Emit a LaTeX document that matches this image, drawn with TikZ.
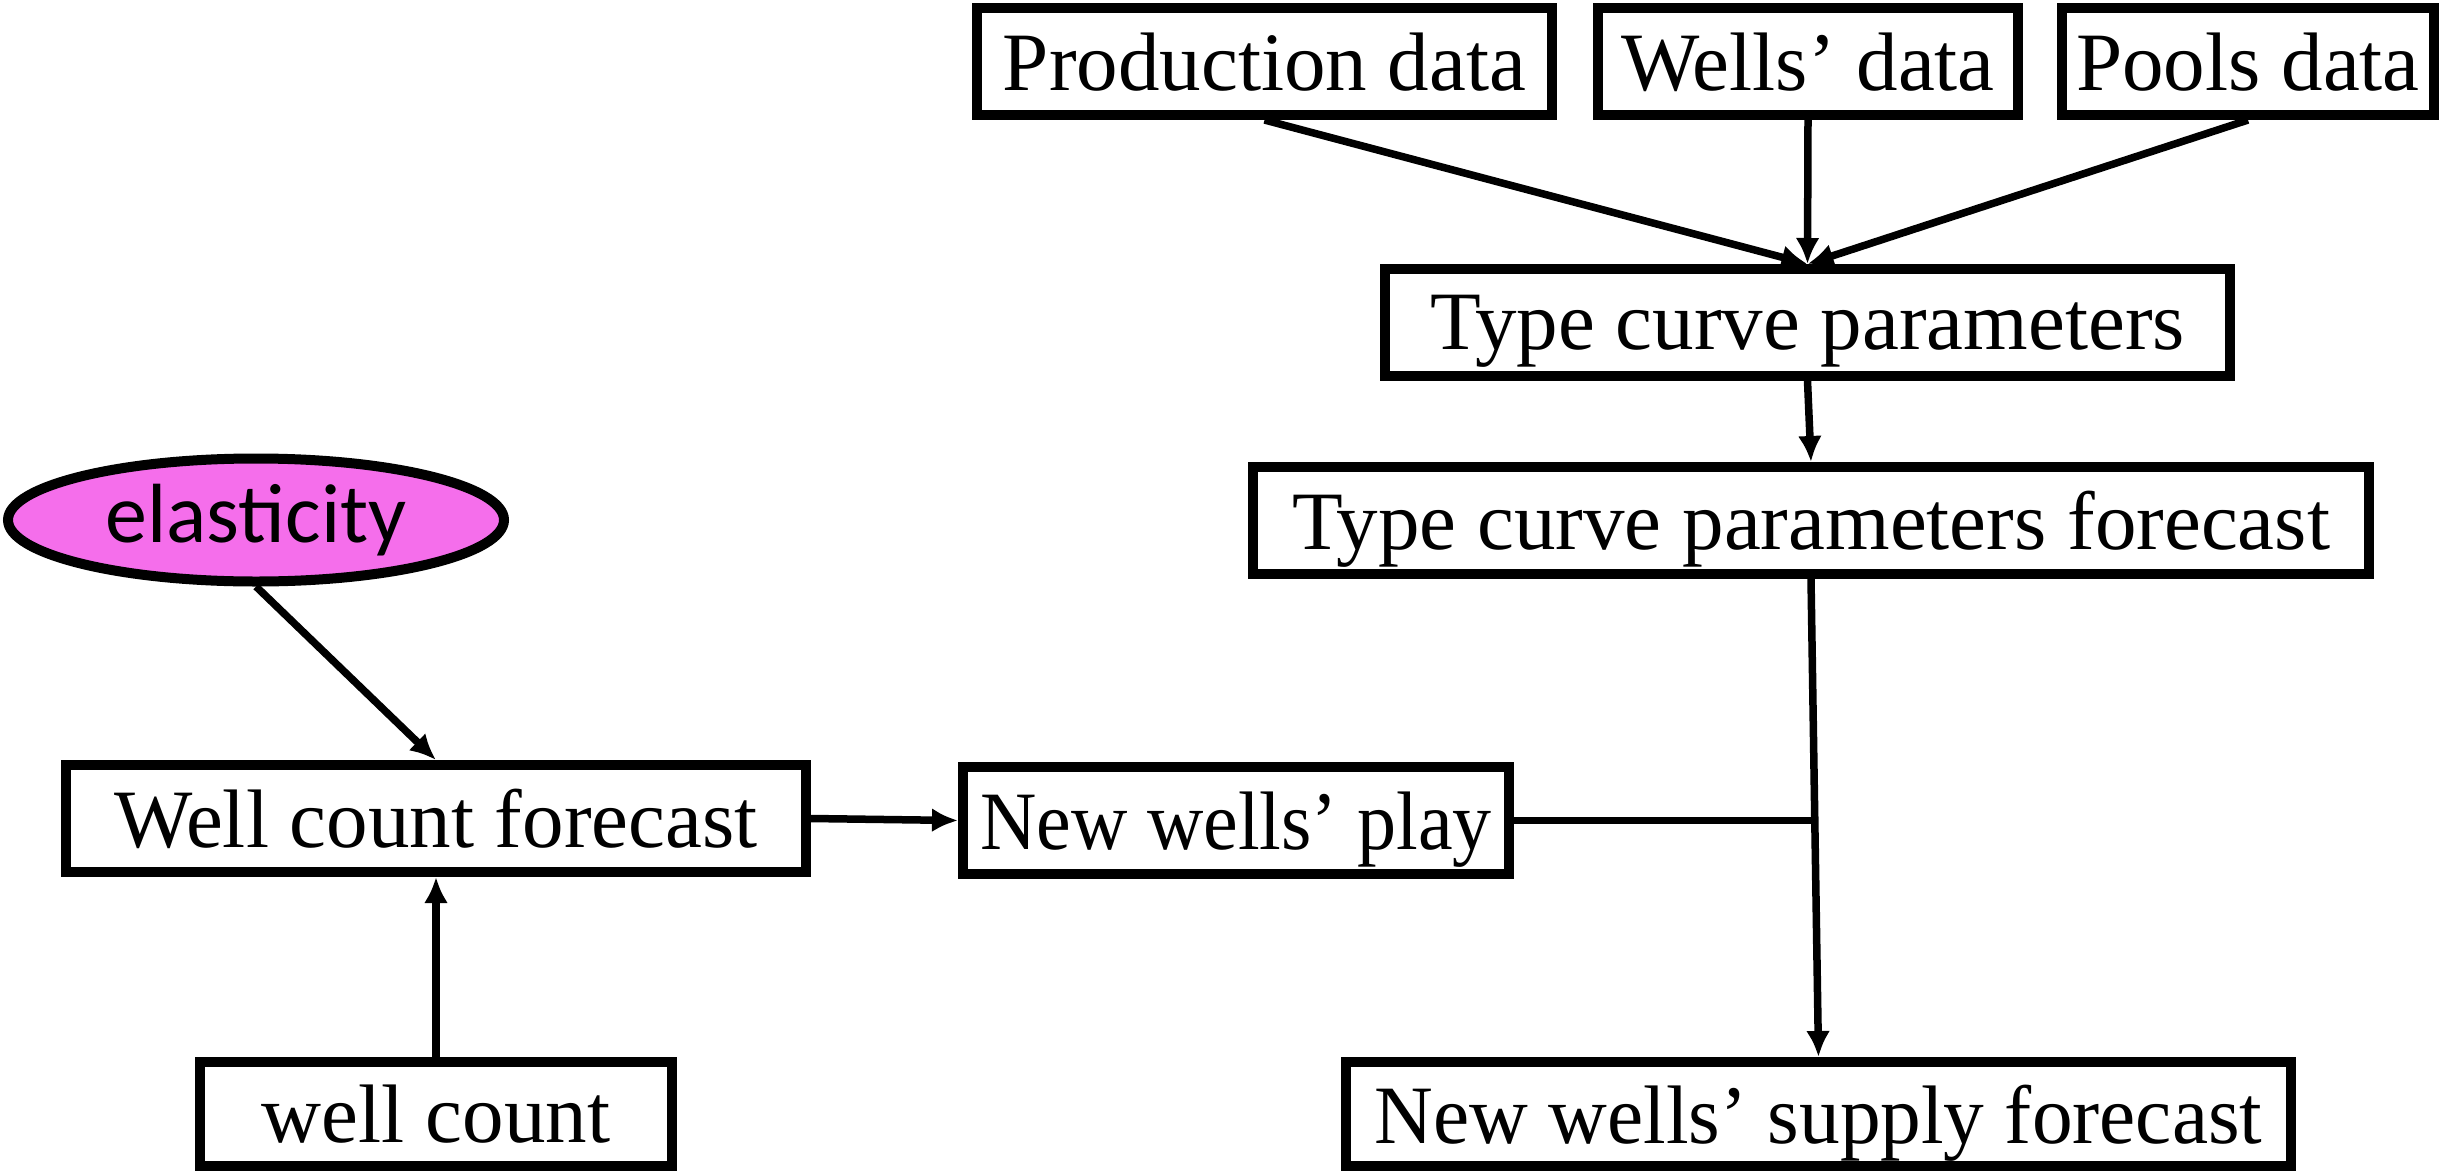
\documentclass[tikz,border=0pt]{standalone}
\usepackage{fontspec}
\setmainfont{Liberation Serif}
\newfontfamily\calib{Carlito}
\usetikzlibrary{shapes.geometric,arrows.meta}
\definecolor{elpink}{RGB}{245,110,235}
\begin{document}
\begin{tikzpicture}[x=1pt,y=-1pt,
  box/.style={draw=black,line width=10pt,rectangle,inner sep=0pt,minimum height=107pt,
    font=\fontsize{83}{100}\selectfont,text depth=0pt,align=center},
  conn/.style={line width=7.5pt,draw=black},
  arr/.style={conn,-{Latex[length=26pt,width=24pt]}}]
\useasboundingbox (0,0) rectangle (2447,1175);
\node[box,minimum width=575pt] (prod) at (1264.5,61.5) {Production data};
\node[box,minimum width=420pt] (wells) at (1808,61.5) {Wells’ data};
\node[box,minimum width=372pt] (pools) at (2248,61.5) {Pools data};
\node[box,minimum width=845pt] (tcp) at (1807.5,322.5) {Type curve parameters};
\node[box,minimum width=1116pt] (tcpf) at (1811,520.5) {Type curve parameters forecast};
\node[draw=black,line width=10pt,ellipse,fill=elpink,inner sep=0pt,minimum width=496pt,minimum height=123pt,
  font=\calib\fontsize{84}{100}\selectfont] (ell) at (256,520) {elasticity};
\node[box,minimum width=740pt] (wcf) at (436,818.5) {Well count forecast};
\node[box,minimum width=546pt] (nwp) at (1236,820.5) {\scalebox{0.94}[1]{New wells’ play}};
\node[box,minimum width=472pt,minimum height=104pt] (wc) at (436,1114) {well count};
\node[box,minimum width=945pt,minimum height=104pt] (nwsf) at (1818.5,1114) {\scalebox{0.98}[1]{New wells’ supply forecast}};
\coordinate (j) at (tcpf.south |- nwp.east);
\draw[arr] (prod.south) -- (tcp.north);
\draw[arr] (wells.south) -- (tcp.north);
\draw[arr] (pools.south) -- (tcp.north);
\draw[arr] (tcp.south) -- (tcpf.north);
\draw[arr] (tcpf.south) -- (nwsf.north);
\draw[conn] (nwp.east) -- (j);
\draw[arr] (ell.south) -- (wcf.north);
\draw[arr] (wcf.east) -- (nwp.west);
\draw[arr] (wc.north) -- (wcf.south);
\end{tikzpicture}
\end{document}
